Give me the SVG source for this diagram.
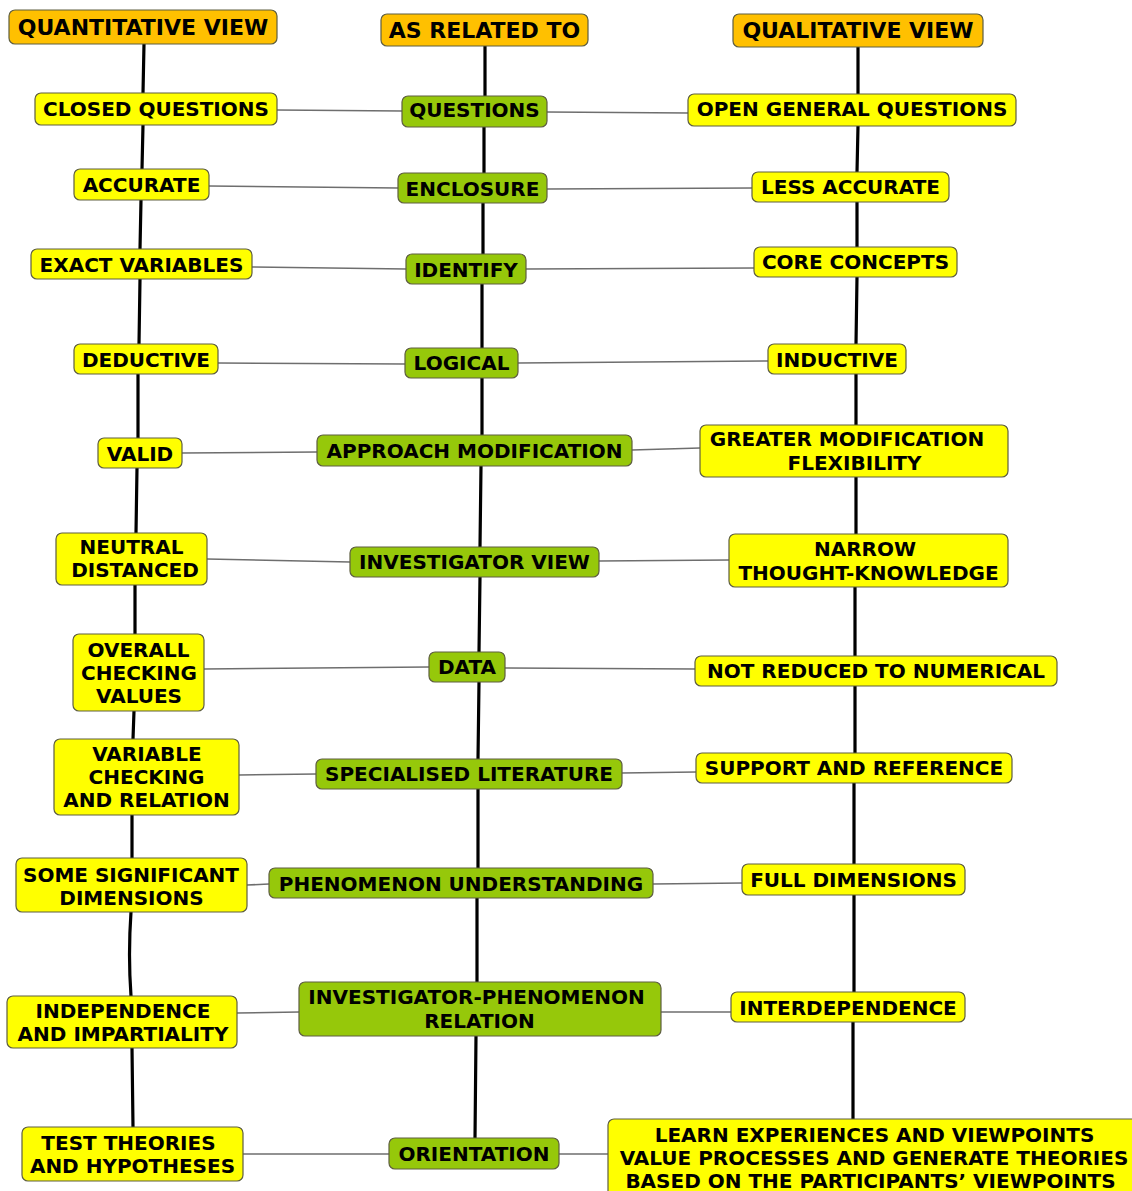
<svg xmlns="http://www.w3.org/2000/svg" width="1132" height="1191" viewBox="0 0 1132 1191">
<style>
.bx{stroke:#5e5e40;stroke-width:1.2}
.hdr{fill:#ffc000}
.yel{fill:#ffff00}
.grn{fill:#96c80a}
text{font-family:"DejaVu Sans","Liberation Sans",sans-serif;font-weight:bold;font-size:20px;fill:#000;text-anchor:middle}
.h text{font-size:22px}
.spine{fill:none;stroke:#000;stroke-width:3.2;stroke-linejoin:round}
.link{fill:none;stroke:#6e6e6e;stroke-width:1.6}
</style>
<rect width="1132" height="1191" fill="#fff"/>
<g id="connectors">
<path class="spine" d="M144,44 L143,93 L143,125 L142,169 L141,200 L140,249 L140,279 L139,344 L138,374 L138,438 L137,468 L136,533 L135,585 L135,634 L134,711 L133,739 L132,815 L132,858 L131,912 Q128,955 131,996 L132,1048 L133,1127"/>
<polyline class="spine" points="485,46 485,96 484,127 484,173 483,203 483,254 482,284 482,348 482,378 482,435 481,466 480,547 480,577 479,652 479,682 478,759 478,789 478,868 477,898 477,982 476,1036 475,1138"/>
<polyline class="spine" points="858,47 858,94 858,126 857,172 857,202 857,247 857,277 856,344 856,374 856,425 856,477 856,534 855,587 855,656 855,686 855,753 854,783 854,864 854,895 854,992 853,1022 853,1119"/>
<line class="link" x1="277" y1="110" x2="402" y2="111"/>
<line class="link" x1="547" y1="112" x2="688" y2="113"/>
<line class="link" x1="209" y1="186" x2="398" y2="188"/>
<line class="link" x1="547" y1="189" x2="752" y2="188"/>
<line class="link" x1="252" y1="267" x2="406" y2="269"/>
<line class="link" x1="526" y1="269" x2="754" y2="268"/>
<line class="link" x1="218" y1="363" x2="405" y2="364"/>
<line class="link" x1="518" y1="363" x2="768" y2="361"/>
<line class="link" x1="182" y1="453" x2="317" y2="452"/>
<line class="link" x1="632" y1="450" x2="700" y2="448"/>
<line class="link" x1="207" y1="559" x2="350" y2="562"/>
<line class="link" x1="599" y1="561" x2="729" y2="560"/>
<line class="link" x1="204" y1="669" x2="429" y2="667"/>
<line class="link" x1="505" y1="668" x2="695" y2="669"/>
<line class="link" x1="239" y1="775" x2="316" y2="774"/>
<line class="link" x1="622" y1="773" x2="696" y2="772"/>
<line class="link" x1="247" y1="885" x2="269" y2="884"/>
<line class="link" x1="653" y1="884" x2="742" y2="883"/>
<line class="link" x1="237" y1="1013" x2="299" y2="1012"/>
<line class="link" x1="661" y1="1012" x2="731" y2="1012"/>
<line class="link" x1="243" y1="1154" x2="389" y2="1154"/>
<line class="link" x1="559" y1="1154" x2="608" y2="1154"/>
</g>
<g id="n-quantitative" class="h"><rect class="bx hdr" x="9" y="10" width="268" height="34" rx="6"/><text x="143" y="35">QUANTITATIVE VIEW</text></g>
<g id="n-related" class="h"><rect class="bx hdr" x="381" y="14" width="207" height="32" rx="6"/><text x="484.5" y="38">AS RELATED TO</text></g>
<g id="n-qualitative" class="h"><rect class="bx hdr" x="733" y="14" width="250" height="33" rx="6"/><text x="858" y="38">QUALITATIVE VIEW</text></g>

<g id="n-closed"><rect class="bx yel" x="35" y="93" width="242" height="32" rx="6"/><text x="156" y="116">CLOSED QUESTIONS</text></g>
<g id="n-accurate"><rect class="bx yel" x="74" y="169" width="135" height="31" rx="6"/><text x="141.5" y="192">ACCURATE</text></g>
<g id="n-exact"><rect class="bx yel" x="31" y="249" width="221" height="30" rx="6"/><text x="141.5" y="271.5">EXACT VARIABLES</text></g>
<g id="n-deductive"><rect class="bx yel" x="74" y="344" width="144" height="30" rx="6"/><text x="146" y="366.5">DEDUCTIVE</text></g>
<g id="n-valid"><rect class="bx yel" x="98" y="438" width="84" height="30" rx="6"/><text x="140" y="460.5">VALID</text></g>
<g id="n-neutral"><rect class="bx yel" x="56" y="533" width="151" height="52" rx="6"/><text x="131.5" y="554">NEUTRAL</text><text x="135" y="577">DISTANCED</text></g>
<g id="n-overall"><rect class="bx yel" x="73" y="634" width="131" height="77" rx="6"/><text x="138.5" y="657">OVERALL</text><text x="139" y="680">CHECKING</text><text x="139" y="703">VALUES</text></g>
<g id="n-variable"><rect class="bx yel" x="54" y="739" width="185" height="76" rx="6"/><text x="147" y="761">VARIABLE</text><text x="146.5" y="784">CHECKING</text><text x="146.5" y="807">AND RELATION</text></g>
<g id="n-some"><rect class="bx yel" x="16" y="858" width="231" height="54" rx="6"/><text x="131" y="881.5">SOME SIGNIFICANT</text><text x="131.5" y="904.5">DIMENSIONS</text></g>
<g id="n-independence"><rect class="bx yel" x="7" y="996" width="230" height="52" rx="6"/><text x="123" y="1018">INDEPENDENCE</text><text x="123" y="1041">AND IMPARTIALITY</text></g>
<g id="n-test"><rect class="bx yel" x="22" y="1127" width="221" height="54" rx="6"/><text x="128.5" y="1150">TEST THEORIES</text><text x="132.5" y="1173">AND HYPOTHESES</text></g>

<g id="n-questions"><rect class="bx grn" x="402" y="96" width="145" height="31" rx="6"/><text x="474.5" y="117">QUESTIONS</text></g>
<g id="n-enclosure"><rect class="bx grn" x="398" y="173" width="149" height="30" rx="6"/><text x="472.5" y="195.5">ENCLOSURE</text></g>
<g id="n-identify"><rect class="bx grn" x="406" y="254" width="120" height="30" rx="6"/><text x="466" y="276.5">IDENTIFY</text></g>
<g id="n-logical"><rect class="bx grn" x="405" y="348" width="113" height="30" rx="6"/><text x="461.5" y="370">LOGICAL</text></g>
<g id="n-approach"><rect class="bx grn" x="317" y="435" width="315" height="31" rx="6"/><text x="474.5" y="458">APPROACH MODIFICATION</text></g>
<g id="n-investigator-view"><rect class="bx grn" x="350" y="547" width="249" height="30" rx="6"/><text x="474.5" y="569">INVESTIGATOR VIEW</text></g>
<g id="n-data"><rect class="bx grn" x="429" y="652" width="76" height="30" rx="6"/><text x="467" y="674">DATA</text></g>
<g id="n-literature"><rect class="bx grn" x="316" y="759" width="306" height="30" rx="6"/><text x="469" y="781">SPECIALISED LITERATURE</text></g>
<g id="n-phenomenon"><rect class="bx grn" x="269" y="868" width="384" height="30" rx="6"/><text x="461" y="890.5">PHENOMENON UNDERSTANDING</text></g>
<g id="n-relation"><rect class="bx grn" x="299" y="982" width="362" height="54" rx="6"/><text x="476.5" y="1004">INVESTIGATOR-PHENOMENON</text><text x="479.5" y="1027.5">RELATION</text></g>
<g id="n-orientation"><rect class="bx grn" x="389" y="1138" width="170" height="31" rx="6"/><text x="474" y="1161">ORIENTATION</text></g>

<g id="n-open"><rect class="bx yel" x="688" y="94" width="328" height="32" rx="6"/><text x="852" y="116">OPEN GENERAL QUESTIONS</text></g>
<g id="n-less"><rect class="bx yel" x="752" y="172" width="197" height="30" rx="6"/><text x="850.5" y="194">LESS ACCURATE</text></g>
<g id="n-core"><rect class="bx yel" x="754" y="247" width="203" height="30" rx="6"/><text x="855.5" y="269">CORE CONCEPTS</text></g>
<g id="n-inductive"><rect class="bx yel" x="768" y="344" width="138" height="30" rx="6"/><text x="837" y="366.5">INDUCTIVE</text></g>
<g id="n-greater"><rect class="bx yel" x="700" y="425" width="308" height="52" rx="6"/><text x="847" y="446">GREATER MODIFICATION</text><text x="854.5" y="470">FLEXIBILITY</text></g>
<g id="n-narrow"><rect class="bx yel" x="729" y="534" width="279" height="53" rx="6"/><text x="865" y="556">NARROW</text><text x="868.5" y="580">THOUGHT-KNOWLEDGE</text></g>
<g id="n-numerical"><rect class="bx yel" x="695" y="656" width="362" height="30" rx="6"/><text x="876" y="678">NOT REDUCED TO NUMERICAL</text></g>
<g id="n-support"><rect class="bx yel" x="696" y="753" width="316" height="30" rx="6"/><text x="854" y="775">SUPPORT AND REFERENCE</text></g>
<g id="n-full"><rect class="bx yel" x="742" y="864" width="223" height="31" rx="6"/><text x="853.5" y="887">FULL DIMENSIONS</text></g>
<g id="n-interdependence"><rect class="bx yel" x="731" y="992" width="234" height="30" rx="6"/><text x="848" y="1014.5">INTERDEPENDENCE</text></g>
<g id="n-learn"><rect class="bx yel" x="608" y="1119" width="532" height="82" rx="6"/><text x="874.5" y="1142">LEARN EXPERIENCES AND VIEWPOINTS</text><text x="874" y="1165">VALUE PROCESSES AND GENERATE THEORIES</text><text x="870.5" y="1188">BASED ON THE PARTICIPANTS’ VIEWPOINTS</text></g>
</svg>
